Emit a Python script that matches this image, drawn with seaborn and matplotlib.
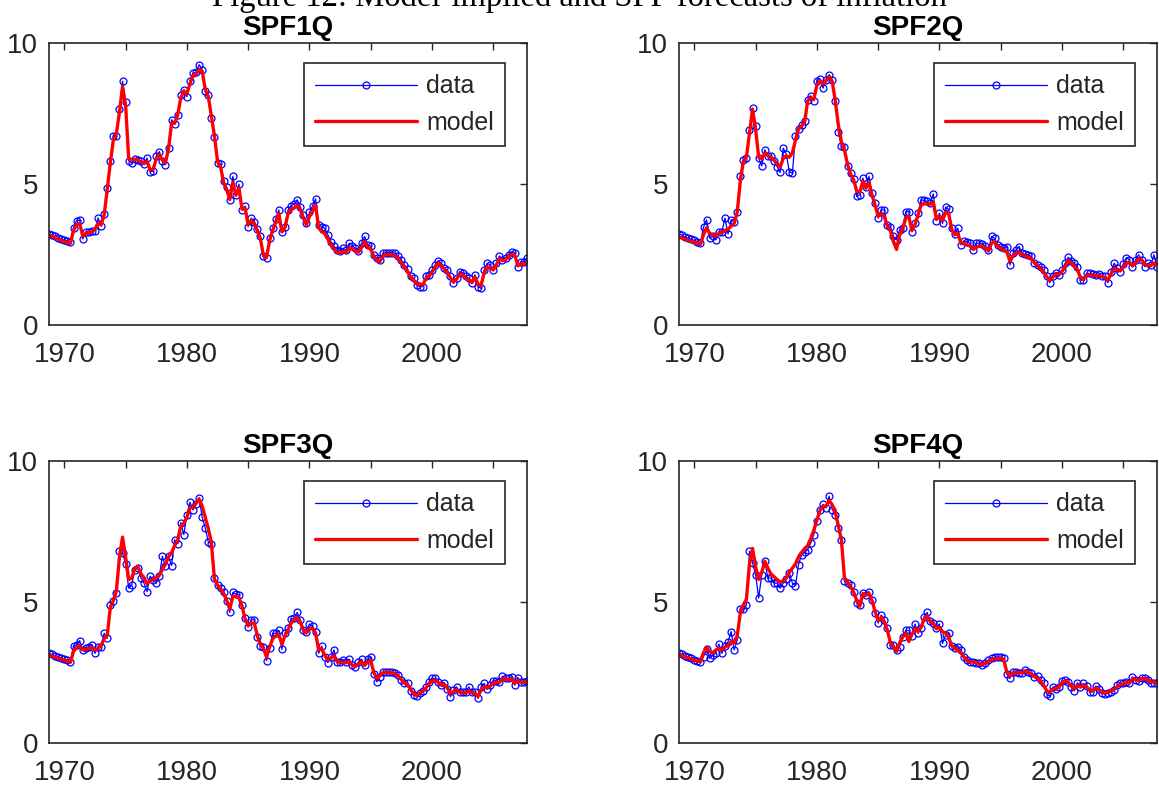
import numpy as np
import pandas as pd
import matplotlib
matplotlib.use("Agg")
import matplotlib.pyplot as plt
import seaborn as sns

# ---------------- data (quarterly, 1968Q4 .. 2007Q4) ----------------
start_year = 1968.75
panel_titles = ["SPF1Q", "SPF2Q", "SPF3Q", "SPF4Q"]
year_ticks = [1970, 1980, 1990, 2000]
minor_year_ticks = [1975, 1985, 1995, 2005]
y_ticks = [0, 5, 10]

spf1q_data = [3.23,
    3.20, 3.15, 3.10, 3.05,  3.02, 2.98, 2.95, 3.45,  3.70, 3.72, 3.05, 3.30,  3.30, 3.32, 3.35, 3.80,
    3.50, 3.95, 4.85, 5.80,  6.70, 6.70, 7.67, 8.64,  7.90, 5.82, 5.74, 5.90,  5.85, 5.80, 5.70, 5.92,
    5.44, 5.45, 5.98, 6.15,  5.80, 5.68, 6.27, 7.28,  7.12, 7.46, 8.14, 8.34,  8.10, 8.66, 8.93, 8.96,
    9.23, 9.05, 8.30, 8.14,  7.34, 6.65, 5.74, 5.72,  5.09, 4.89, 4.44, 5.27,  4.62, 4.99, 4.08, 4.22,
    3.49, 3.79, 3.67, 3.40,  3.14, 2.43, 2.37, 3.08,  3.43, 3.75, 4.08, 3.31,  3.49, 4.08, 4.22, 4.30,
    4.44, 4.20, 3.90, 3.60,  3.99, 4.22, 4.47, 3.55,  3.49, 3.43, 3.20, 2.96,  2.80, 2.66, 2.64, 2.72,
    2.66, 2.90, 2.80, 2.72,  2.64, 2.90, 3.14, 2.84,  2.80, 2.49, 2.37, 2.31,  2.54, 2.57, 2.57, 2.57,
    2.54, 2.43, 2.31, 2.13,  1.98, 1.74, 1.66, 1.42,  1.36, 1.36, 1.72, 1.78,  1.95, 2.13, 2.28, 2.19,
    2.01, 1.95, 1.72, 1.48,  1.66, 1.89, 1.86, 1.72,  1.66, 1.48, 1.78, 1.36,  1.30, 1.95, 2.19, 2.13,
    1.95, 2.19, 2.45, 2.31,  2.37, 2.49, 2.60, 2.57,  2.07, 2.25, 2.25, 2.39]
spf1q_model = [3.18,
    3.15, 3.10, 3.05, 3.00,  2.96, 2.92, 2.90, 3.35,  3.55, 3.60, 3.15, 3.25,  3.28, 3.30, 3.40, 3.60,
    3.55, 3.90, 4.80, 5.75,  6.55, 6.80, 7.55, 8.45,  7.80, 5.90, 5.85, 5.88,  5.85, 5.78, 5.72, 5.80,
    5.50, 5.52, 5.90, 6.05,  5.85, 5.75, 6.25, 7.15,  7.15, 7.45, 8.05, 8.30,  8.20, 8.55, 8.85, 8.90,
    9.05, 9.00, 8.35, 8.10,  7.40, 6.70, 5.80, 5.60,  5.05, 4.80, 4.45, 5.05,  4.60, 4.85, 4.10, 4.15,
    3.55, 3.70, 3.60, 3.35,  3.05, 2.45, 2.40, 3.00,  3.35, 3.65, 3.95, 3.30,  3.45, 3.95, 4.10, 4.15,
    4.25, 4.10, 3.80, 3.55,  3.85, 4.05, 4.25, 3.45,  3.30, 3.25, 3.05, 2.85,  2.70, 2.58, 2.55, 2.60,
    2.58, 2.75, 2.70, 2.62,  2.58, 2.75, 2.95, 2.75,  2.70, 2.42, 2.30, 2.25,  2.45, 2.50, 2.50, 2.48,
    2.45, 2.35, 2.22, 2.05,  1.90, 1.68, 1.60, 1.45,  1.45, 1.42, 1.65, 1.72,  1.88, 2.05, 2.20, 2.12,
    1.98, 1.85, 1.68, 1.52,  1.62, 1.80, 1.78, 1.65,  1.62, 1.50, 1.70, 1.45,  1.40, 1.85, 2.05, 2.05,
    1.95, 2.12, 2.35, 2.28,  2.32, 2.42, 2.50, 2.48,  2.10, 2.15, 2.18, 2.20]

spf2q_data = [3.23,
    3.18, 3.12, 3.08, 3.04,  3.00, 2.96, 2.90, 3.47,  3.73, 3.08, 3.14, 3.02,  3.31, 3.31, 3.79, 3.23,
    3.73, 3.66, 4.02, 5.27,  5.86, 5.92, 6.92, 7.69,  7.07, 5.92, 5.64, 6.21,  6.00, 5.98, 5.80, 5.62,
    5.41, 6.27, 6.07, 5.44,  5.38, 6.69, 6.95, 7.10,  7.22, 7.99, 8.13, 7.96,  8.67, 8.72, 8.40, 8.70,
    8.88, 8.70, 7.93, 6.86,  6.33, 6.31, 5.64, 5.38,  5.17, 4.56, 4.62, 5.21,  4.91, 5.27, 4.67, 4.34,
    3.79, 4.08, 4.08, 3.55,  3.49, 3.14, 3.02, 3.37,  3.43, 4.02, 4.02, 3.31,  3.60, 3.96, 4.44, 4.42,
    4.38, 4.32, 4.65, 3.70,  3.96, 3.60, 4.18, 4.10,  3.43, 3.23, 3.43, 2.84,  2.99, 2.96, 2.90, 2.66,
    2.90, 2.90, 2.88, 2.80,  2.66, 3.14, 3.08, 2.84,  2.78, 2.72, 2.78, 2.13,  2.54, 2.66, 2.78, 2.54,
    2.51, 2.49, 2.43, 2.19,  2.13, 2.07, 1.95, 1.72,  1.50, 1.74, 1.86, 1.78,  1.95, 2.19, 2.40, 2.28,
    2.19, 2.07, 1.60, 1.58,  1.83, 1.83, 1.80, 1.78,  1.80, 1.74, 1.72, 1.50,  1.89, 2.19, 2.01, 1.89,
    2.17, 2.39, 2.31, 2.05,  2.31, 2.49, 2.31, 2.07,  2.19, 2.13, 2.49, 2.07]
spf2q_model = [3.12,
    3.08, 3.04, 3.00, 2.96,  2.93, 2.90, 2.86, 3.20,  3.45, 3.25, 3.20, 3.15,  3.25, 3.28, 3.35, 3.40,
    3.50, 3.60, 4.00, 5.10,  5.80, 5.95, 6.80, 7.65,  6.95, 5.95, 5.90, 6.10,  6.00, 5.95, 5.85, 5.72,
    5.60, 5.90, 6.00, 5.95,  6.10, 6.55, 6.95, 7.05,  7.20, 7.95, 8.05, 8.00,  8.50, 8.65, 8.55, 8.65,
    8.80, 8.65, 7.95, 7.10,  6.50, 6.20, 5.70, 5.35,  5.15, 4.75, 4.70, 5.10,  4.85, 5.05, 4.60, 4.25,
    3.85, 3.95, 3.85, 3.50,  3.35, 2.95, 2.68, 3.20,  3.40, 3.80, 3.85, 3.35,  3.55, 3.90, 4.25, 4.30,
    4.30, 4.28, 4.35, 3.75,  3.85, 3.70, 4.00, 3.95,  3.40, 3.20, 3.25, 2.90,  2.90, 2.85, 2.80, 2.68,
    2.75, 2.80, 2.80, 2.72,  2.62, 2.90, 2.95, 2.80,  2.72, 2.65, 2.60, 2.25,  2.45, 2.55, 2.58, 2.50,
    2.45, 2.40, 2.35, 2.20,  2.10, 2.00, 1.88, 1.72,  1.58, 1.70, 1.80, 1.78,  1.90, 2.05, 2.28, 2.20,
    2.10, 1.95, 1.70, 1.62,  1.75, 1.78, 1.76, 1.75,  1.75, 1.72, 1.68, 1.60,  1.80, 2.00, 1.98, 1.92,
    2.05, 2.20, 2.22, 2.10,  2.20, 2.35, 2.32, 2.15,  2.12, 2.10, 2.20, 2.10]

spf3q_data = [3.18,
    3.14, 3.10, 3.06, 3.02,  2.98, 2.94, 2.88, 3.44,  3.48, 3.63, 3.30, 3.36,  3.42, 3.48, 3.18, 3.42,
    3.42, 3.89, 3.71, 4.90,  5.02, 5.31, 6.80, 6.74,  6.36, 5.49, 5.61, 6.14,  6.20, 5.85, 5.67, 5.37,
    5.91, 5.79, 5.67, 5.91,  6.62, 6.26, 6.62, 6.29,  7.21, 7.07, 7.81, 7.39,  8.10, 8.54, 8.26, 8.46,
    8.70, 8.00, 7.63, 7.12,  7.07, 5.85, 5.61, 5.49,  5.37, 5.02, 4.63, 5.34,  5.29, 5.26, 4.90, 4.42,
    4.13, 4.37, 4.37, 3.77,  3.44, 3.42, 2.92, 3.36,  3.89, 3.89, 3.99, 3.32,  3.91, 4.07, 4.39, 4.42,
    4.63, 4.37, 3.99, 3.95,  4.22, 4.15, 3.95, 3.18,  3.44, 3.06, 2.85, 3.04,  3.30, 2.88, 2.88, 2.94,
    2.88, 2.97, 2.76, 2.70,  2.88, 2.97, 2.76, 2.97,  3.04, 2.44, 2.17, 2.35,  2.53, 2.53, 2.53, 2.53,
    2.47, 2.41, 2.25, 2.11,  2.11, 1.85, 1.70, 1.66,  1.76, 1.85, 1.99, 2.17,  2.29, 2.29, 2.17, 2.05,
    2.14, 1.93, 1.64, 1.87,  1.99, 1.81, 1.81, 1.81,  1.99, 1.81, 1.81, 1.58,  1.99, 2.11, 1.90, 2.05,
    2.21, 2.21, 2.17, 2.37,  2.29, 2.29, 2.35, 2.05,  2.32, 2.17, 2.17, 2.20]
spf3q_model = [3.12,
    3.08, 3.04, 3.00, 2.97,  2.94, 2.90, 2.86, 3.25,  3.40, 3.45, 3.30, 3.32,  3.35, 3.38, 3.30, 3.35,
    3.45, 3.70, 3.80, 4.80,  5.05, 5.40, 6.60, 7.30,  6.60, 5.80, 5.85, 6.20,  6.25, 6.00, 5.85, 5.65,
    5.75, 5.80, 5.85, 5.95,  6.15, 6.35, 6.60, 6.75,  7.00, 7.20, 7.70, 7.80,  8.00, 8.35, 8.35, 8.50,
    8.65, 8.40, 8.00, 7.60,  7.10, 5.80, 5.60, 5.45,  5.30, 5.05, 4.75, 5.20,  5.20, 5.15, 4.85, 4.40,
    4.15, 4.25, 4.25, 3.80,  3.50, 3.35, 3.05, 3.40,  3.70, 3.80, 3.85, 3.50,  3.80, 4.00, 4.25, 4.35,
    4.45, 4.30, 4.00, 3.90,  4.05, 4.05, 3.90, 3.30,  3.35, 3.10, 2.95, 3.00,  3.10, 2.90, 2.85, 2.85,
    2.85, 2.88, 2.75, 2.72,  2.80, 2.88, 2.75, 2.88,  2.92, 2.50, 2.30, 2.38,  2.50, 2.50, 2.50, 2.50,
    2.45, 2.38, 2.25, 2.12,  2.08, 1.90, 1.75, 1.70,  1.75, 1.85, 1.95, 2.10,  2.20, 2.22, 2.15, 2.05,
    2.08, 1.95, 1.75, 1.82,  1.88, 1.80, 1.78, 1.78,  1.85, 1.78, 1.76, 1.65,  1.88, 2.00, 1.95, 2.02,
    2.12, 2.15, 2.15, 2.28,  2.25, 2.25, 2.28, 2.12,  2.22, 2.15, 2.15, 2.18]

spf4q_data = [3.18,
    3.15, 3.10, 3.05, 3.00,  2.96, 2.92, 2.88, 3.06,  3.32, 3.00, 3.12, 3.18,  3.51, 3.18, 3.44, 3.59,
    3.95, 3.30, 3.65, 4.74,  4.74, 4.90, 6.80, 6.38,  5.97, 5.14, 5.97, 6.44,  5.85, 5.85, 5.67, 5.67,
    5.49, 5.67, 5.80, 6.03,  5.67, 5.58, 6.32, 6.68,  6.76, 6.86, 7.09, 7.39,  7.86, 8.28, 8.46, 8.34,
    8.75, 8.28, 8.10, 7.63,  7.21, 5.73, 5.67, 5.61,  5.37, 4.96, 4.90, 5.31,  5.26, 5.37, 5.08, 4.60,
    4.25, 4.54, 4.37, 4.07,  3.48, 3.48, 3.30, 3.42,  3.77, 3.99, 3.99, 3.80,  4.22, 3.89, 4.07, 4.48,
    4.63, 4.31, 4.25, 4.07,  4.22, 3.53, 3.83, 3.89,  3.44, 3.36, 3.42, 3.30,  3.04, 2.94, 2.88, 2.88,
    2.85, 2.82, 2.76, 2.85,  2.94, 3.00, 3.04, 3.06,  3.04, 3.00, 2.44, 2.29,  2.53, 2.53, 2.47, 2.50,
    2.59, 2.53, 2.47, 2.35,  2.38, 2.23, 2.11, 1.73,  1.66, 1.99, 1.90, 1.99,  2.21, 2.23, 2.17, 1.99,
    1.85, 2.14, 1.99, 2.11,  2.02, 1.81, 1.81, 2.02,  1.93, 1.76, 1.73, 1.78,  1.81, 1.87, 2.05, 2.11,
    2.11, 2.17, 2.11, 2.35,  2.23, 2.21, 2.29, 2.29,  2.25, 2.14, 2.14, 2.11]
spf4q_model = [3.12,
    3.10, 3.06, 3.02, 2.98,  2.94, 2.90, 2.88, 3.20,  3.40, 3.25, 3.20, 3.30,  3.35, 3.30, 3.40, 3.45,
    3.60, 3.55, 3.80, 4.60,  4.90, 5.10, 6.35, 6.90,  6.25, 5.80, 6.05, 6.45,  6.20, 6.00, 5.90, 5.80,
    5.70, 5.75, 5.85, 6.05,  6.20, 6.35, 6.60, 6.75,  6.90, 7.00, 7.25, 7.55,  7.90, 8.25, 8.40, 8.40,
    8.60, 8.45, 8.20, 7.70,  7.20, 5.85, 5.70, 5.55,  5.35, 5.05, 4.85, 5.30,  5.25, 5.30, 5.05, 4.65,
    4.35, 4.45, 4.30, 4.00,  3.55, 3.40, 3.25, 3.55,  3.75, 3.90, 3.60, 3.85,  4.05, 3.95, 4.10, 4.40,
    4.50, 4.30, 4.25, 4.05,  4.10, 3.95, 3.90, 3.75,  3.45, 3.35, 3.30, 3.20,  3.05, 2.92, 2.88, 2.88,
    2.85, 2.82, 2.78, 2.82,  2.90, 2.95, 2.98, 3.00,  3.00, 2.95, 2.50, 2.38,  2.50, 2.50, 2.48, 2.50,
    2.55, 2.50, 2.45, 2.35,  2.30, 2.20, 2.05, 1.85,  1.80, 1.92, 1.92, 1.98,  2.15, 2.20, 2.15, 2.02,
    1.92, 2.05, 1.98, 2.05,  2.00, 1.88, 1.85, 1.95,  1.90, 1.80, 1.78, 1.80,  1.85, 1.90, 2.00, 2.08,
    2.10, 2.15, 2.12, 2.28,  2.25, 2.22, 2.28, 2.28,  2.25, 2.18, 2.15, 2.12]

series_data = [spf1q_data, spf2q_data, spf3q_data, spf4q_data]
series_model = [spf1q_model, spf2q_model, spf3q_model, spf4q_model]

n_q = len(spf1q_data)
quarters = start_year + 0.25 * np.arange(n_q)

# ---------------- styling ----------------
sns.set_theme(style="white")
plt.rcParams["font.family"] = ["Liberation Sans", "DejaVu Sans"]
dark = "#262626"

fig = plt.figure(figsize=(11.59, 7.89), dpi=100)
W, H = 1159, 789
# axes boxes in pixels: (left, top, right, bottom)
boxes = [(49, 43, 527, 325), (679, 43, 1157, 325),
         (49, 461, 527, 743), (679, 461, 1157, 743)]

for i, (l, t, r, b) in enumerate(boxes):
    ax = fig.add_axes([l / W, 1 - b / H, (r - l) / W, (b - t) / H])
    df = pd.DataFrame({"t": quarters, "data": series_data[i], "model": series_model[i]})
    sns.lineplot(data=df, x="t", y="data", ax=ax, color="#0000ff", linewidth=0.9,
                 marker="o", markersize=5.0, markerfacecolor="none",
                 markeredgecolor="#0000ff", markeredgewidth=0.9,
                 estimator=None, sort=False, label="data")
    sns.lineplot(data=df, x="t", y="model", ax=ax, color="#ff0000", linewidth=2.4,
                 estimator=None, sort=False, label="model")
    ax.set_xlim(quarters[0], quarters[-1])
    ax.set_ylim(0, 10)
    ax.set_xticks(year_ticks)
    ax.set_xticks(minor_year_ticks, minor=True)
    ax.set_yticks(y_ticks)
    ax.set_xlabel("")
    ax.set_ylabel("")
    ax.tick_params(which="both", direction="in", top=True, right=True,
                   length=5, width=1.0, color=dark)
    ax.tick_params(axis="x", which="major", labelsize=20, pad=12, labelcolor=dark)
    ax.tick_params(axis="y", which="major", labelsize=20, pad=8, labelcolor=dark)
    for sp in ax.spines.values():
        sp.set_color(dark)
        sp.set_linewidth(1.2)
        sp.set_visible(True)
    ax.set_title(panel_titles[i], fontsize=20, fontweight="bold", pad=6, color="black")
    leg = ax.legend(loc="upper right", bbox_to_anchor=(1 - 22 / 478, 1 - 20 / 282),
                    borderaxespad=0, fontsize=18, frameon=True, fancybox=False,
                    handlelength=4.1, handletextpad=0.35, labelspacing=0.5,
                    borderpad=0.45)
    leg.get_frame().set_edgecolor(dark)
    leg.get_frame().set_linewidth(1.2)
    leg.get_frame().set_facecolor("white")
    leg.get_frame().set_alpha(1)

fig.text(0.5, 1 - 6 / H, "Figure 12: Model-implied and SPF forecasts of inflation",
         ha="center", va="baseline", fontsize=23.5, family=["Liberation Serif", "DejaVu Serif"],
         color="black")

fig.savefig("out.png", dpi=100, facecolor="white")
